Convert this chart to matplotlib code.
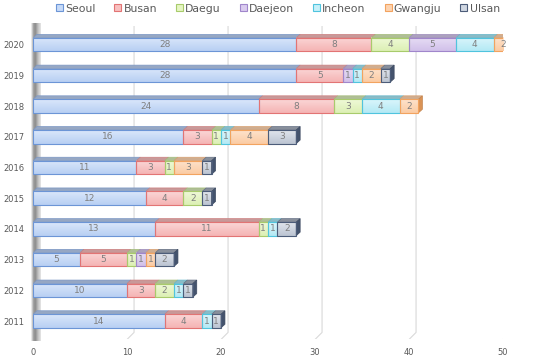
import numpy as np
import matplotlib
matplotlib.use('Agg')
import matplotlib.pyplot as plt
from matplotlib.patches import Polygon, Patch
from matplotlib.colors import to_rgb

years = ['2011', '2012', '2013', '2014', '2015', '2016', '2017', '2018', '2019', '2020']
cities = ['Seoul', 'Busan', 'Daegu', 'Daejeon', 'Incheon', 'Gwangju', 'Ulsan']

seoul = [14, 10, 5, 13, 12, 11, 16, 24, 28, 28]
busan = [4, 3, 5, 11, 4, 3, 3, 8, 5, 8]
daegu = [0, 2, 1, 1, 2, 1, 1, 3, 0, 4]
daejeon = [0, 0, 1, 0, 0, 0, 0, 0, 1, 5]
incheon = [1, 1, 0, 1, 0, 0, 1, 4, 1, 4]
gwangju = [0, 0, 1, 0, 0, 3, 4, 2, 2, 2]
ulsan = [1, 1, 2, 2, 1, 1, 3, 0, 1, 0]
series = [seoul, busan, daegu, daejeon, incheon, gwangju, ulsan]

face = ['#c6daf8', '#f8c0c0', '#e6f6c2', '#dacbef', '#c6f0f9', '#fdd3b0', '#d0d7e2']
edge = ['#6c95d6', '#e27474', '#a8cb6c', '#a086cb', '#50c4de', '#f2a35f', '#4c5c79']


def mix(c1, c2, t):
    a, b = np.array(to_rgb(c1)), np.array(to_rgb(c2))
    return tuple(a * (1 - t) + b * t)


fig = plt.figure(figsize=(5.5, 3.6), dpi=100)
ax = fig.add_axes([33 / 550, 0.057, 470 / 550, 0.87])
ax.set_xlim(0, 50)
ax.set_ylim(-0.6, 9.6)

# 3d depth in data units
bdx, bdy = 0.75, 0.23     # back wall
dx, dy = 0.42, 0.115      # bar depth
h = 0.44

# back gridlines with floor slant
for v in range(10, 51, 10):
    ax.plot([v + bdx, v + bdx, v], [9.6, -0.6 + bdy, -0.6], color='#d9d9d9', lw=0.8, zorder=0)

# left wall with gradient
wall = Polygon([(-0.25, -0.65), (bdx, -0.6 + bdy), (bdx, 9.7), (-0.25, 9.55)], closed=True,
               facecolor='none', edgecolor='none')
ax.add_patch(wall)
g = np.interp(np.linspace(0, 1, 40), [0, 0.25, 0.45, 0.7, 1], [0.97, 0.62, 0.55, 0.75, 0.9])
img = ax.imshow(np.tile(g, (2, 1)), cmap='gray', vmin=0, vmax=1, aspect='auto',
                extent=(-0.25, bdx, -0.65, 9.7), zorder=1, clip_on=False)
img.set_clip_path(wall)

for i, yr in enumerate(years):
    left = 0
    segs = [(k, series[k][i]) for k in range(len(cities)) if series[k][i] > 0]
    for j, (k, v) in enumerate(segs):
        y0, y1 = i - h / 2, i + h / 2
        # front face gradient
        top_c = mix(face[k], 'white', 0.35)
        bot_c = mix(face[k], edge[k], 0.15)
        col = np.array([mix(top_c, bot_c, t) for t in np.linspace(0, 1, 20)]).reshape(20, 1, 3)
        ax.imshow(col, aspect='auto', extent=(left, left + v, y0, y1), zorder=3)
        ax.add_patch(Polygon([(left, y0), (left + v, y0), (left + v, y1), (left, y1)], closed=True,
                             facecolor='none', edgecolor=edge[k], lw=0.8, zorder=4))
        # top face
        ax.add_patch(Polygon([(left, y1), (left + v, y1), (left + v + dx, y1 + dy), (left + dx, y1 + dy)],
                             closed=True, facecolor=mix(mix(edge[k], '#9a9a9a', 0.5), 'white', 0.15),
                             edgecolor=mix(edge[k], '#9a9a9a', 0.3), lw=0.5, zorder=3))
        if j == len(segs) - 1:
            ax.add_patch(Polygon([(left + v, y0), (left + v + dx, y0 + dy), (left + v + dx, y1 + dy),
                                  (left + v, y1)], closed=True, facecolor=mix(edge[k], 'black', 0.1),
                                 edgecolor=mix(edge[k], 'black', 0.2), lw=0.5, zorder=3))
        ax.text(left + v / 2, i, str(v), ha='center', va='center', fontsize=6.5,
                color='#7f7f7f', family='DejaVu Sans', zorder=5)
        left += v

ax.set_xlim(0, 50)
ax.set_ylim(-0.6, 9.6)
ax.set_yticks(range(len(years)))
ax.set_yticklabels(years)
ax.set_xticks(range(0, 51, 10))
for s in ax.spines.values():
    s.set_visible(False)
ax.tick_params(length=0, labelsize=6, labelcolor='#595959')
ax.tick_params(axis='y', pad=6)
ax.tick_params(axis='x', pad=6)

handles = [Patch(facecolor=face[k], edgecolor=edge[k], lw=0.8, label=c) for k, c in enumerate(cities)]
fig.legend(handles=handles, loc='upper center', bbox_to_anchor=(0.505, 1.017), ncol=7, frameon=False,
           fontsize=7.8, handlelength=0.65, handleheight=0.65, handletextpad=0.2, columnspacing=1.75,
           labelcolor='#595959')

fig.savefig('out.png', dpi=100)
